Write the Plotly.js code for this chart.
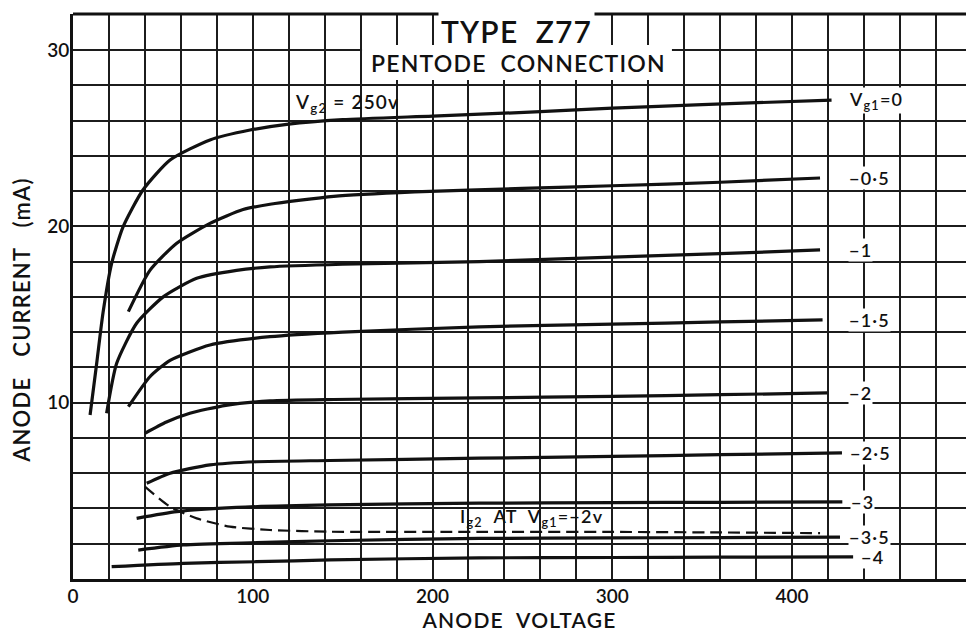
<!DOCTYPE html>
<html><head><meta charset="utf-8">
<script src="https://cdn.plot.ly/plotly-3.0.1.min.js"></script>
<style>
html,body{margin:0;padding:0;background:#fff}
#chart{width:966px;height:637px}
.annotation-text,.xtitle{letter-spacing:1.2px}
</style>
</head><body><div id="chart"></div>
<script>
// Anode voltage (V) / anode current (mA) for each grid-1 bias
const vg1Labels = ['V<sub>g1</sub>=0', '−0·5', '−1', '−1·5', '−2', '−2·5', '−3', '−3·5', '−4'];

const va_0   = [9.5, 13.2, 16.7, 21.5, 27.8, 38.9, 54, 76.2, 98.5, 120, 150, 200, 260, 300, 350, 422];
const ia_0   = [9.3, 12.25, 15.1, 17.9, 19.96, 22.06, 23.76, 24.9, 25.46, 25.8, 26.05, 26.25, 26.5, 26.7, 26.9, 27.16];

const va_05  = [30.8, 42.8, 57.7, 76.2, 94.6, 109.6, 145, 190, 250, 300, 360, 415.6];
const ia_05  = [15.16, 17.5, 19.04, 20.17, 20.95, 21.25, 21.7, 21.95, 22.15, 22.3, 22.5, 22.74];

const va_1   = [18.7, 24.3, 35.4, 50.2, 68.8, 91, 109.6, 150, 226, 300, 360, 415.6];
const ia_1   = [9.4, 12.23, 14.5, 16.0, 17.05, 17.5, 17.7, 17.85, 18.0, 18.25, 18.45, 18.66];

const va_15  = [30.8, 42.8, 54, 76.2, 109.6, 150, 226, 300, 360, 417];
const ia_15  = [9.77, 11.47, 12.4, 13.27, 13.74, 14.0, 14.3, 14.45, 14.58, 14.69];

const va_2   = [40, 52, 65, 85, 109.6, 145, 226, 300, 360, 419.5];
const ia_2   = [8.26, 8.9, 9.4, 9.85, 10.1, 10.18, 10.27, 10.36, 10.45, 10.55];

const va_25  = [41, 54, 76.2, 102, 143, 226, 300, 360, 427.8];
const ia_25  = [5.43, 6.0, 6.47, 6.65, 6.72, 6.85, 6.95, 7.05, 7.15];

const va_3   = [35.4, 57.7, 91, 143, 226, 300, 360, 428];
const ia_3   = [3.44, 3.82, 4.06, 4.2, 4.3, 4.33, 4.35, 4.37];

const va_35  = [36.3, 61.4, 102, 143, 226, 300, 360, 426.7];
const ia_35  = [1.64, 1.93, 2.06, 2.17, 2.3, 2.33, 2.35, 2.38];

const va_4   = [21.5, 61.4, 102, 143, 226, 300, 360, 434];
const ia_4   = [0.7, 0.89, 0.98, 1.08, 1.2, 1.22, 1.24, 1.25];

// Screen-grid current at Vg1 = -2 V (dashed)
const ig2_va = [40, 54, 68.8, 87.3, 109.6, 143, 226, 300, 360, 415.6];
const ig2_ia = [5.24, 4.1, 3.44, 2.97, 2.78, 2.68, 2.67, 2.67, 2.64, 2.6];

const xTickVals = [0, 100, 200, 300, 400];
const yTickVals = [10, 20, 30];

const seriesVa = [va_0, va_05, va_1, va_15, va_2, va_25, va_3, va_35, va_4];
const seriesIa = [ia_0, ia_05, ia_1, ia_15, ia_2, ia_25, ia_3, ia_35, ia_4];

const FONT = 'Lato, "Open Sans", sans-serif';
const INK = '#111';

const traces = seriesVa.map((v, i) => ({
  x: v, y: seriesIa[i], type: 'scatter', mode: 'lines',
  line: {color: INK, width: 3.2, shape: 'spline', smoothing: 0.6},
  hoverinfo: 'skip', showlegend: false
}));
traces.push({
  x: ig2_va, y: ig2_ia, type: 'scatter', mode: 'lines',
  line: {color: INK, width: 2.2, dash: '12px,6px', shape: 'spline', smoothing: 0.6},
  hoverinfo: 'skip', showlegend: false
});

const annotations = seriesVa.map((v, i) => ({
  x: Math.max(v[v.length - 1] + 4, 431), y: seriesIa[i][seriesIa[i].length - 1],
  xref: 'x', yref: 'y', xanchor: 'left', yanchor: 'middle',
  text: vg1Labels[i], showarrow: false,
  font: {family: FONT, size: 18, color: INK, weight: 600},
  bgcolor: '#fff', borderpad: 0
}));

annotations.push(
  {x: 246.5, y: 31.1, xref: 'x', yref: 'y', text: 'TYPE  Z77', showarrow: false,
   font: {family: FONT, size: 30, color: INK, weight: 600}, bgcolor: '#fff', borderpad: 2},
  {x: 248, y: 29.26, xref: 'x', yref: 'y', text: 'PENTODE  CONNECTION', showarrow: false,
   font: {family: FONT, size: 23, color: INK, weight: 600}},
  {x: 122.4, y: 27.0, xref: 'x', yref: 'y', xanchor: 'left', text: 'V<sub>g2</sub> = 250v', showarrow: false,
   font: {family: FONT, size: 19, color: INK, weight: 600}},
  {x: 214, y: 3.46, xref: 'x', yref: 'y', xanchor: 'left', text: 'I<sub>g2</sub>  AT  V<sub>g1</sub>=−2v', showarrow: false,
   font: {family: FONT, size: 18, color: INK, weight: 600}},
  {x: (22 - 73) / 893, y: 0.457, xref: 'paper', yref: 'paper', text: 'ANODE   CURRENT   (mA)', textangle: -90, showarrow: false,
   xanchor: 'center', yanchor: 'middle',
   font: {family: FONT, size: 22, color: INK, weight: 600}}
);

const layout = {
  width: 966, height: 637,
  margin: {l: 73, r: 0, t: 14, b: 58},
  paper_bgcolor: '#fff', plot_bgcolor: '#fff',
  showlegend: false,
  font: {family: FONT, color: INK},
  xaxis: {
    range: [0, 496.8], tickmode: 'array', tickvals: xTickVals, ticks: '',
    ticklabelstandoff: -2,
    tickfont: {family: FONT, size: 19, color: INK, weight: 600},
    showgrid: true, gridcolor: '#1c1c1c', gridwidth: 2,
    minor: {tickmode: 'linear', tick0: 0, dtick: 20, showgrid: true, gridcolor: '#1c1c1c', gridwidth: 2, ticks: ''},
    showline: true, linecolor: INK, linewidth: 3, zeroline: false,
    title: {text: 'ANODE  VOLTAGE', font: {family: FONT, size: 21, color: INK, weight: 600}, standoff: 6}
  },
  yaxis: {
    range: [0, 32.04], tickmode: 'array', tickvals: yTickVals, ticks: '',
    ticklabelstandoff: -3,
    tickfont: {family: FONT, size: 19, color: INK, weight: 600},
    showgrid: true, gridcolor: '#1c1c1c', gridwidth: 2,
    minor: {tickmode: 'linear', tick0: 0, dtick: 2, showgrid: true, gridcolor: '#1c1c1c', gridwidth: 2, ticks: ''},
    showline: true, linecolor: INK, linewidth: 3, zeroline: false
  },
  shapes: [
    {type: 'rect', xref: 'x', yref: 'y', x0: 160.8, x1: 333.2, y0: 28.3, y1: 30.28,
     fillcolor: '#fff', line: {width: 0}, layer: 'above'},
    {type: 'rect', xref: 'x', yref: 'y', x0: 202.5, x1: 297.6, y0: 30.2, y1: 31.95,
     fillcolor: '#fff', line: {width: 0}, layer: 'above'},
    {type: 'line', xref: 'paper', yref: 'paper', x0: 0, x1: 1, y0: 1, y1: 1,
     line: {color: INK, width: 3}}
  ],
  annotations: annotations
};

Plotly.newPlot('chart', traces, layout, {staticPlot: true, displayModeBar: false});
</script>
</body></html>
